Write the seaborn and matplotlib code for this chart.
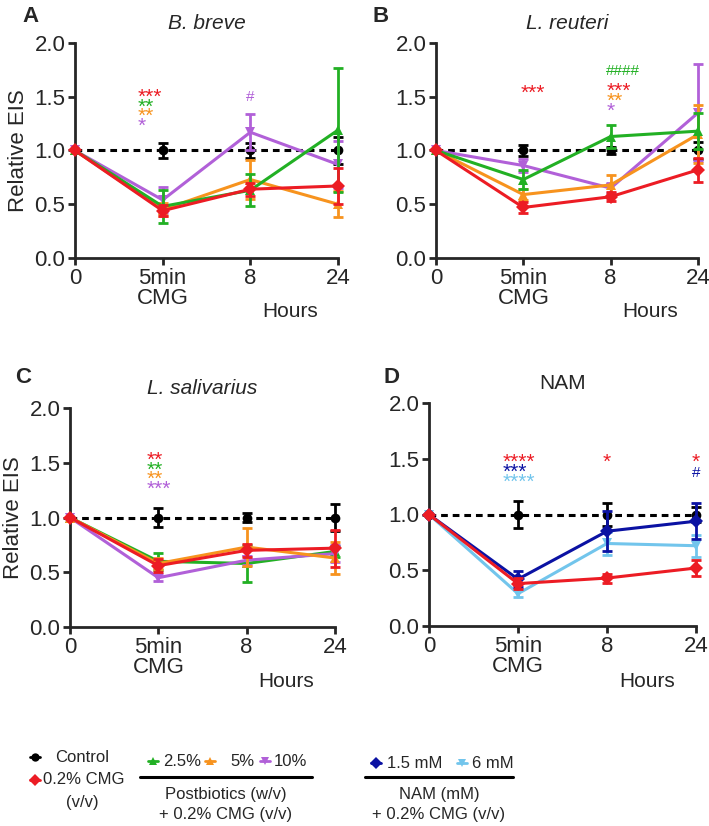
import matplotlib
matplotlib.use("Agg")
import matplotlib.pyplot as plt
import matplotlib.transforms as mtransforms
import numpy as np
import pandas as pd
import seaborn as sns

# time points (categorical)
time_labels = ["0", "5min\nCMG", "8", "24"]

# ---- panel A: B. breve ----
a_control = [1.0, 1.0, 1.0, 1.0]
a_control_err = [0, 0.07, 0.07, 0.13]
a_cmg = [1.0, 0.44, 0.64, 0.67]
a_cmg_err = [0, 0.05, 0.06, 0.17]
a_p25 = [1.0, 0.48, 0.63, 1.19]
a_p25_err = [0, 0.15, 0.15, 0.58]
a_p5 = [1.0, 0.45, 0.73, 0.50]
a_p5_err = [0, 0.06, 0.18, 0.12]
a_p10 = [1.0, 0.54, 1.17, 0.87]
a_p10_err = [0, 0.12, 0.17, 0.22]

# ---- panel B: L. reuteri ----
b_control = [1.0, 1.0, 1.0, 1.0]
b_control_err = [0, 0.05, 0.03, 0.08]
b_cmg = [1.0, 0.47, 0.57, 0.82]
b_cmg_err = [0, 0.05, 0.04, 0.11]
b_p25 = [1.0, 0.73, 1.13, 1.18]
b_p25_err = [0, 0.09, 0.11, 0.17]
b_p5 = [1.0, 0.59, 0.68, 1.15]
b_p5_err = [0, 0.05, 0.09, 0.27]
b_p10 = [1.0, 0.86, 0.65, 1.35]
b_p10_err = [0, 0.06, 0.05, 0.45]

# ---- panel C: L. salivarius ----
c_control = [1.0, 1.0, 1.0, 1.0]
c_control_err = [0, 0.09, 0.04, 0.12]
c_cmg = [1.0, 0.56, 0.70, 0.72]
c_cmg_err = [0, 0.06, 0.06, 0.17]
c_p25 = [1.0, 0.60, 0.58, 0.69]
c_p25_err = [0, 0.08, 0.17, 0.05]
c_p5 = [1.0, 0.58, 0.73, 0.63]
c_p5_err = [0, 0.05, 0.17, 0.15]
c_p10 = [1.0, 0.45, 0.61, 0.67]
c_p10_err = [0, 0.03, 0.04, 0.08]

# ---- panel D: NAM ----
d_control = [1.0, 1.0, 1.0, 1.0]
d_control_err = [0, 0.12, 0.10, 0.07]
d_cmg = [1.0, 0.38, 0.43, 0.52]
d_cmg_err = [0, 0.05, 0.04, 0.07]
d_nam15 = [1.0, 0.42, 0.85, 0.94]
d_nam15_err = [0, 0.07, 0.18, 0.16]
d_nam6 = [1.0, 0.29, 0.74, 0.72]
d_nam6_err = [0, 0.03, 0.10, 0.10]

# significance marks: (x, y, text, series, align)
a_marks = [(0.72, 1.53, "***", "cmg", "left"), (0.72, 1.44, "**", "p25", "left"),
           (0.72, 1.35, "**", "p5", "left"), (0.72, 1.26, "*", "p10", "left"),
           (2.0, 1.51, "#", "p10", "center")]
b_marks = [(0.97, 1.57, "***", "cmg", "left"), (1.95, 1.75, "####", "p25", "left"),
           (1.95, 1.59, "***", "cmg", "left"), (1.95, 1.49, "**", "p5", "left"),
           (1.95, 1.40, "*", "p10", "left")]
c_marks = [(0.87, 1.56, "**", "cmg", "left"), (0.87, 1.47, "**", "p25", "left"),
           (0.87, 1.38, "**", "p5", "left"), (0.87, 1.29, "***", "p10", "left")]
d_marks = [(0.83, 1.50, "****", "cmg", "left"), (0.83, 1.41, "***", "nam15", "left"),
           (0.83, 1.32, "****", "nam6", "left"), (2.0, 1.50, "*", "cmg", "center"),
           (3.0, 1.50, "*", "cmg", "center"), (3.0, 1.39, "#", "nam15", "center")]

colors = {"control": "#000000", "cmg": "#ec1c24", "p25": "#22b024", "p5": "#f7931e",
          "p10": "#b160d8", "nam15": "#0b12a3", "nam6": "#72c5ec"}
markers = {"control": "o", "cmg": "D", "p25": "^", "p5": "^", "p10": "v",
           "nam15": "D", "nam6": "v"}

panels = [
    ("A", "B. breve", True, [75, 43, 338, 258],
     [("control", a_control, a_control_err), ("p10", a_p10, a_p10_err), ("p5", a_p5, a_p5_err),
      ("p25", a_p25, a_p25_err), ("cmg", a_cmg, a_cmg_err)], a_marks),
    ("B", "L. reuteri", True, [436, 43, 698, 258],
     [("control", b_control, b_control_err), ("p10", b_p10, b_p10_err), ("p5", b_p5, b_p5_err),
      ("p25", b_p25, b_p25_err), ("cmg", b_cmg, b_cmg_err)], b_marks),
    ("C", "L. salivarius", True, [70, 408, 335, 627],
     [("control", c_control, c_control_err), ("p25", c_p25, c_p25_err), ("p10", c_p10, c_p10_err),
      ("p5", c_p5, c_p5_err), ("cmg", c_cmg, c_cmg_err)], c_marks),
    ("D", "NAM", False, [429, 403, 696, 626],
     [("control", d_control, d_control_err), ("nam6", d_nam6, d_nam6_err),
      ("nam15", d_nam15, d_nam15_err), ("cmg", d_cmg, d_cmg_err)], d_marks),
]
letter_pos = {"A": (22, 22), "B": (372, 22), "C": (15, 383), "D": (383, 383)}

sns.set_theme(style="ticks")
plt.rcParams["font.family"] = ["Liberation Sans", "DejaVu Sans"]

W, H = 709, 826
fig = plt.figure(figsize=(W / 100, H / 100), dpi=100)

for letter, title, italic, (x0, y0, x1, y1), series, marks in panels:
    ax = fig.add_axes([x0 / W, 1 - y1 / H, (x1 - x0) / W, (y1 - y0) / H])
    for z, (name, mean, err) in enumerate(series):
        df = pd.DataFrame({"t": np.arange(len(mean)), "mean": mean, "err": err})
        ls = "--" if name == "control" else "-"
        sns.lineplot(data=df, x="t", y="mean", ax=ax, color=colors[name], marker=markers[name],
                     markersize=7, markeredgewidth=0, linewidth=2.2, linestyle=ls,
                     clip_on=False, zorder=3 + z)
        if name == "control":
            ax.lines[-1].set_dashes((2.2, 1.6))
        e = df[df.err > 0]
        ax.errorbar(e.t, e["mean"], yerr=e.err, fmt="none", ecolor=colors[name],
                    elinewidth=2, capsize=3.5, capthick=2, clip_on=False, zorder=3 + z)
    # significance marks, glyph centred on the given y
    for mx, my, txt, s, ha in marks:
        if "#" in txt:
            fs, lift = 11, 0.36
        else:
            fs, lift = 15, 0.45
        tr = mtransforms.offset_copy(ax.transData, fig=fig, y=-lift * fs, units="points")
        ax.text(mx, my, txt, color=colors[s], ha=ha, va="baseline", fontsize=fs,
                transform=tr, zorder=10)
    ax.set_xlim(0, 3)
    ax.set_ylim(0, 2.0)
    ax.set_xticks(range(4))
    ax.set_xticklabels(time_labels, fontsize=16, linespacing=0.95)
    ax.set_yticks([0, 0.5, 1.0, 1.5, 2.0])
    ax.set_yticklabels(["0.0", "0.5", "1.0", "1.5", "2.0"], fontsize=16)
    ax.tick_params(direction="out", length=5, width=2, pad=2)
    for sp in ["left", "bottom"]:
        ax.spines[sp].set_linewidth(2)
    sns.despine(ax=ax)
    ax.set_xlabel("")
    if letter in ("A", "C"):
        ax.set_ylabel("Relative EIS", fontsize=16, labelpad=4)
    else:
        ax.set_ylabel("")
    ax.set_title(title, fontsize=15, style="italic" if italic else "normal", pad=10)
    trans = mtransforms.blended_transform_factory(ax.transData, ax.transAxes)
    ax.text(2.45, -0.25, "Hours", transform=trans, fontsize=15, ha="center", va="center")
    lx, ly = letter_pos[letter]
    fig.text(lx / W, 1 - ly / H, letter, fontsize=16, fontweight="bold", va="baseline")

# legend drawn on an overlay in pixel coordinates
lax = fig.add_axes([0, 0, 1, 1], zorder=-1)
lax.set_xlim(0, W)
lax.set_ylim(H, 0)
lax.axis("off")


def key(x, y, name):
    lax.plot([x - 5, x + 5], [y, y], color=colors[name], lw=2)
    lax.plot([x], [y], marker=markers[name], color=colors[name], ms=6, mew=0)


fs = 12
key(35, 757, "control")
lax.text(55, 757, "Control", fontsize=fs, va="center")
key(35, 780, "cmg")
lax.text(43, 780, "0.2% CMG", fontsize=fs, va="center")
lax.text(82, 802, "(v/v)", fontsize=fs, va="center", ha="center")

for x, tx, lab, name in [(153, 163, "2.5%", "p25"), (210, 230, "5%", "p5"), (265, 274, "10%", "p10")]:
    key(x, 761, name)
    lax.text(tx, 761, lab, fontsize=fs, va="center")
lax.plot([140, 312], [777, 777], color="black", lw=2.2)
lax.text(226, 795, "Postbiotics (w/v)", fontsize=fs, va="center", ha="center")
lax.text(226, 815, "+ 0.2% CMG (v/v)", fontsize=fs, va="center", ha="center")

for x, tx, lab, name in [(376, 387, "1.5 mM", "nam15"), (462, 472, "6 mM", "nam6")]:
    key(x, 763, name)
    lax.text(tx, 763, lab, fontsize=fs, va="center")
lax.plot([365, 513], [777, 777], color="black", lw=2.2)
lax.text(439, 795, "NAM (mM)", fontsize=fs, va="center", ha="center")
lax.text(439, 815, "+ 0.2% CMG (v/v)", fontsize=fs, va="center", ha="center")

fig.savefig("out.png", dpi=100)
